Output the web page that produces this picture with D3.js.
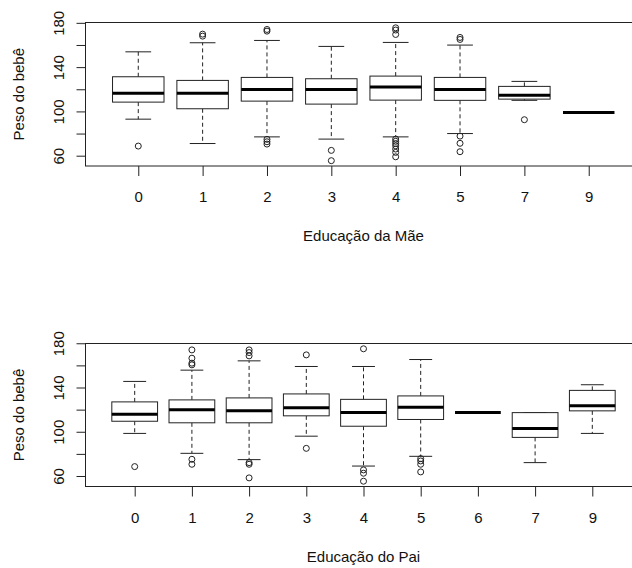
<!DOCTYPE html>
<html>
<head>
<meta charset="utf-8">
<script src="https://cdn.jsdelivr.net/npm/d3@7"></script>
<style>
body { margin: 0; background: #fff; }
svg text { font-family: "Liberation Sans", Arial, sans-serif; font-size: 15px; fill: #111; }
</style>
</head>
<body>
<div id="chart"></div>
<script>
// Educação da Mãe
var maeCats = ["0", "1", "2", "3", "4", "5", "7", "9"];
var maeLow  = [93, 71, 77, 75, 77, 80, 110, 99];
var maeQ1   = [108.4, 102.4, 109.3, 106.6, 110.2, 110, 111.1, 99];
var maeMed  = [116.3, 116.3, 119.9, 119.9, 122, 119.9, 114.7, 99];
var maeQ3   = [131.3, 128, 130.7, 129.5, 131.9, 130.7, 122.6, 99];
var maeHigh = [153.8, 162, 164.1, 158.7, 162.3, 159.9, 127.1, 99];
var maeOut  = [[68.7], [168, 169.8], [70.5, 72.6, 74.8, 172.5, 174], [55.5, 64.8],
               [59, 63, 66, 69, 71, 73, 75, 169.5, 173.5, 175.5], [63.6, 71.2, 77.7, 165, 166.8], [92.5], []];

// Educação do Pai
var paiCats = ["0", "1", "2", "3", "4", "5", "6", "7", "9"];
var paiLow  = [98.5, 80.5, 74.8, 96, 69, 77.8, 117.3, 72.1, 98.5];
var paiQ1   = [109.5, 108.1, 108.1, 114.4, 105, 111.1, 117.3, 94.9, 118.9];
var paiMed  = [115.8, 119.8, 119.1, 121.8, 117.3, 122.1, 117.3, 103, 123.6];
var paiQ3   = [127, 128.8, 130.6, 134.2, 129.3, 132.4, 117.3, 117.3, 137.4];
var paiHigh = [145.5, 155.7, 164.1, 159, 159, 165.3, 117.3, 117.3, 142.5];
var paiOut  = [[68.5], [70.6, 75.1, 160.5, 162, 166.5, 174], [58.3, 70.6, 72.1, 168.6, 171.6, 174],
               [85, 169.5], [55.3, 62.5, 65.5, 175], [63.7, 70.6, 73.6, 75.7], [], [], []];

var yTicks = [60, 80, 100, 120, 140, 160, 180];
var yLabels = [60, 100, 140, 180];

Chart = {
	width : 632,
	height : 568,
	left : 85.5,   // plot box left
	right : 641.5, // plot box right (outside the picture, R window was cropped)
	lineColor : "#222",

	draw : function(){
		var svg = d3.select("#chart").append("svg")
			.attr("width", Chart.width)
			.attr("height", Chart.height);

		Chart.drawPanel(svg, 22.5, 166, maeCats, maeLow, maeQ1, maeMed, maeQ3, maeHigh, maeOut, "Educação da Mãe");
		Chart.drawPanel(svg, 343.5, 486.5, paiCats, paiLow, paiQ1, paiMed, paiQ3, paiHigh, paiOut, "Educação do Pai");
	},

	drawPanel : function(svg, top, bottom, cats, low, q1, med, q3, high, out, title){
		var n = cats.length;
		var g = svg.append("g");

		// R style ranges: 4% extra on each side
		var x = d3.scaleLinear()
			.domain([0.5 - 0.04 * n, n + 0.5 + 0.04 * n])
			.range([Chart.left, Chart.right]);
		var unit = x(2) - x(1);

		var all = low.concat(high, d3.merge(out));
		var lo = d3.min(all), hi = d3.max(all);
		var pad = (hi - lo) * 0.04;
		var y = d3.scaleLinear()
			.domain([lo - pad, hi + pad])
			.range([bottom, top]);

		// y axis
		var yAxis = g.append("g")
			.attr("transform", "translate(" + Chart.left + ",0)")
			.call(d3.axisLeft(y).tickValues(yTicks).tickSize(9)
				.tickFormat(function(d){ return yLabels.indexOf(d) >= 0 ? d : ""; }));
		yAxis.select(".domain").remove();
		yAxis.selectAll("line").attr("stroke", Chart.lineColor);
		yAxis.selectAll("text")
			.attr("x", null)
			.attr("dy", null)
			.attr("transform", "translate(-22,0) rotate(-90)")
			.attr("text-anchor", "middle")
			.attr("font-size", null)
			.attr("font-family", null)
			.attr("fill", null);

		// x axis
		var xAxis = g.append("g")
			.attr("transform", "translate(0," + bottom + ")")
			.call(d3.axisBottom(x).tickValues(d3.range(1, n + 1)).tickSize(10)
				.tickFormat(function(d){ return cats[d - 1]; }));
		xAxis.select(".domain").remove();
		xAxis.selectAll("line").attr("stroke", Chart.lineColor);
		xAxis.selectAll("text")
			.attr("y", 36)
			.attr("dy", null)
			.attr("font-size", null)
			.attr("font-family", null)
			.attr("fill", null);

		// plot frame
		g.append("rect")
			.attr("x", Chart.left)
			.attr("y", top)
			.attr("width", Chart.right - Chart.left)
			.attr("height", bottom - top)
			.attr("fill", "none")
			.attr("stroke", Chart.lineColor);

		// boxes
		for(var i = 0; i < n; i++){
			var cx = x(i + 1);
			var bw = unit * 0.4;  // half box width
			var sw = unit * 0.2;  // half staple width
			var b = g.append("g").attr("class", "box");

			// whiskers
			b.append("line")
				.attr("x1", cx).attr("x2", cx)
				.attr("y1", y(q3[i])).attr("y2", y(high[i]))
				.attr("stroke", Chart.lineColor)
				.attr("stroke-dasharray", "4,3");
			b.append("line")
				.attr("x1", cx).attr("x2", cx)
				.attr("y1", y(q1[i])).attr("y2", y(low[i]))
				.attr("stroke", Chart.lineColor)
				.attr("stroke-dasharray", "4,3");

			// staples
			b.append("line")
				.attr("x1", cx - sw).attr("x2", cx + sw)
				.attr("y1", y(high[i])).attr("y2", y(high[i]))
				.attr("stroke", Chart.lineColor);
			b.append("line")
				.attr("x1", cx - sw).attr("x2", cx + sw)
				.attr("y1", y(low[i])).attr("y2", y(low[i]))
				.attr("stroke", Chart.lineColor);

			// box
			b.append("rect")
				.attr("x", cx - bw)
				.attr("y", y(q3[i]))
				.attr("width", bw * 2)
				.attr("height", y(q1[i]) - y(q3[i]))
				.attr("fill", "#fff")
				.attr("stroke", Chart.lineColor);

			// median
			b.append("line")
				.attr("x1", cx - bw).attr("x2", cx + bw)
				.attr("y1", y(med[i])).attr("y2", y(med[i]))
				.attr("stroke", "#000")
				.attr("stroke-width", 3);

			// outliers
			b.selectAll("circle")
				.data(out[i])
				.enter().append("circle")
				.attr("cx", cx)
				.attr("cy", function(d){ return y(d); })
				.attr("r", 3)
				.attr("fill", "none")
				.attr("stroke", Chart.lineColor);
		}

		// titles
		g.append("text")
			.attr("x", (Chart.left + Chart.right) / 2)
			.attr("y", bottom + 75)
			.attr("text-anchor", "middle")
			.text(title);

		g.append("text")
			.attr("transform", "translate(24," + ((top + bottom) / 2) + ") rotate(-90)")
			.attr("text-anchor", "middle")
			.text("Peso do bebê");
	}
}

Chart.draw();
</script>
</body>
</html>
